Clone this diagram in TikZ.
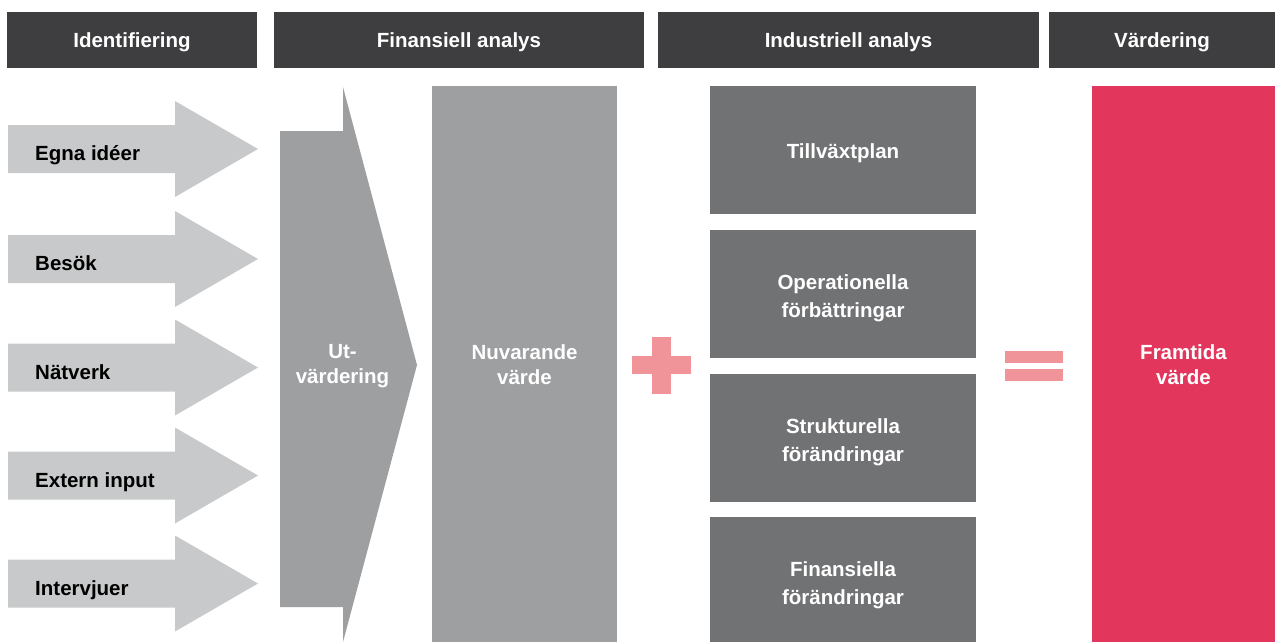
\documentclass[tikz,border=0pt]{standalone}
\usepackage{fontspec}
\setmainfont{Liberation Sans}
\definecolor{hdr}{HTML}{3E3E40}
\definecolor{lgray}{HTML}{C8C9CA}
\definecolor{mgray}{HTML}{9E9FA1}
\definecolor{dgray}{HTML}{717274}
\definecolor{red}{HTML}{E3365C}
\definecolor{pink}{HTML}{F09499}
\begin{document}
\begin{tikzpicture}[x=1pt,y=-1pt,
  hdrbox/.style={fill=hdr,inner sep=0pt},
  hdrtxt/.style={text=white,inner sep=0pt,anchor=base,font=\fontsize{20.5}{25}\selectfont\bfseries},
  lbl/.style={inner sep=0pt,font=\fontsize{20.5}{25}\selectfont\bfseries},
  wlbl/.style={lbl,text=white,align=center},
  dlbl/.style={inner sep=0pt,text=white,align=center,font=\fontsize{20.5}{28}\selectfont\bfseries},
  inarrow/.style={fill=lgray}]
\useasboundingbox (0,0) rectangle (1275,642);
% headers
\fill[hdr] (7,12) rectangle (257,68);
\fill[hdr] (274,12) rectangle (644,68);
\fill[hdr] (658,12) rectangle (1039,68);
\fill[hdr] (1049,12) rectangle (1275,68);
\node[hdrtxt] (h1) at (132,47.5) {Identifiering};
\node[hdrtxt] (h2) at (459,47.5) {Finansiell analys};
\node[hdrtxt] (h3) at (848.5,47.5) {Industriell analys};
\node[hdrtxt] (h4) at (1162,47.5) {Värdering};
% input arrows
\foreach \yc/\txt/\nm in {149/Egna idéer/a1,259/Besök/a2,367.5/Nätverk/a3,475.5/Extern input/a4,583.5/Intervjuer/a5}{
  \fill[inarrow] (8,\yc-24) -- (175,\yc-24) -- (175,\yc-48) -- (258,\yc) -- (175,\yc+48) -- (175,\yc+24) -- (8,\yc+24) -- cycle;
  \node[lbl,anchor=base west] (\nm) at (35,\yc+11.5) {\txt};
}
% big arrow
\fill[mgray] (280,131) -- (343,131) -- (343,87) -- (417,365) -- (343,642) -- (343,607) -- (280,607) -- cycle;
\node[wlbl] (ut) at (342.5,366.5) {Ut-\\värdering};
% current value
\fill[mgray] (432,86) rectangle (617,642);
\node[wlbl] (nv) at (524.5,364.5) {Nuvarande\\värde};
% plus
\fill[pink] (632,356) rectangle (691,374);
\fill[pink] (652,337) rectangle (671,394);
% dark boxes
\fill[dgray] (710,86) rectangle (976,214);
\fill[dgray] (710,230) rectangle (976,358);
\fill[dgray] (710,374) rectangle (976,502);
\fill[dgray] (710,517) rectangle (976,642);
\node[dlbl] (b1) at (843,153) {Tillväxtplan};
\node[dlbl] (b2) at (843,298) {Operationella\\förbättringar};
\node[dlbl] (b3) at (843,442) {Strukturella\\förändringar};
\node[dlbl] (b4) at (843,585) {Finansiella\\förändringar};
% equals
\fill[pink] (1005,351) rectangle (1063,363);
\fill[pink] (1005,369) rectangle (1063,381);
% future value
\fill[red] (1092,86) rectangle (1275,642);
\node[wlbl] (fv) at (1183.5,364.5) {Framtida\\värde};
\end{tikzpicture}
\end{document}
